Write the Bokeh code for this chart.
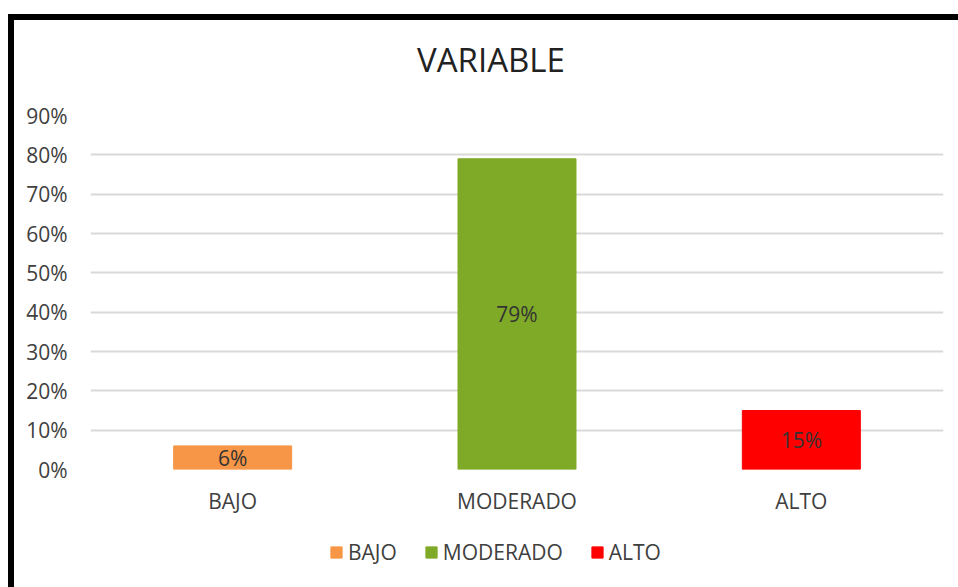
from bokeh.plotting import figure
from bokeh.layouts import column
from bokeh.models import (ColumnDataSource, FactorRange, Range1d, NumeralTickFormatter,
                          FixedTicker, Legend, LegendItem, Div)
from bokeh.core.properties import value
from bokeh.embed import file_html
from bokeh.resources import INLINE

title_text = "VARIABLE"
categories = ["BAJO", "MODERADO", "ALTO"]
values = [0.06, 0.79, 0.15]
labels = ["6%", "79%", "15%"]
colors = ["#F79646", "#7FAA28", "#FF0000"]
y_ticks = [0.0, 0.1, 0.2, 0.3, 0.4, 0.5, 0.6, 0.7, 0.8, 0.9]

FONT = "Open Sans"
TXT = "#404040"
FS = "21px"

src = ColumnDataSource(dict(cat=categories, val=values, lab=labels, col=colors,
                            mid=[v / 2 for v in values]))

title = Div(text=title_text, width=944, height=70,
            styles={"font-family": FONT, "font-size": "33px", "color": "#222222",
                    "line-height": "70px", "text-align": "center",
                    "box-sizing": "border-box",
                    "background-color": "white"})

p = figure(width=944, height=417, output_backend="svg", toolbar_location=None,
           x_range=FactorRange(*categories), y_range=Range1d(0, 0.9),
           min_border_left=76, min_border_right=15, min_border_top=15,
           min_border_bottom=48)
p.outline_line_color = None
p.background_fill_color = "white"
p.border_fill_color = "white"

p.xgrid.grid_line_color = None
p.ygrid.grid_line_color = "#D9D9D9"
p.ygrid.grid_line_width = 2
p.yaxis.ticker = FixedTicker(ticks=y_ticks)
p.yaxis.formatter = NumeralTickFormatter(format="0%")
for ax in (p.xaxis, p.yaxis):
    ax.axis_line_color = None
    ax.major_tick_line_color = None
    ax.minor_tick_line_color = None
    ax.major_tick_out = 0
    ax.major_tick_in = 0
    ax.minor_tick_out = 0
    ax.major_label_text_font = FONT
    ax.major_label_text_font_size = FS
    ax.major_label_text_color = TXT
p.yaxis.major_label_standoff = 23
p.xaxis.major_label_standoff = 17

p.vbar(x="cat", top="val", width=0.415, color="col", source=src)
p.text(x="cat", y="mid", text="lab", source=src, text_align="center",
       text_baseline="middle", text_font=value(FONT), text_font_size=FS,
       text_color="#333333")

# legend strip: same bars, drawn outside its visible range so only the legend shows
p2 = figure(width=944, height=70, output_backend="svg", toolbar_location=None,
            x_range=FactorRange(*categories), y_range=Range1d(10, 11),
            min_border_left=0, min_border_right=0, min_border_top=0,
            min_border_bottom=0)
p2.axis.visible = False
p2.grid.visible = False
p2.outline_line_color = None
p2.background_fill_color = "white"
p2.border_fill_color = "white"
r2 = p2.vbar(x="cat", top="val", width=0.415, color="col", source=src)

items = [LegendItem(label=c, renderers=[r2], index=i) for i, c in enumerate(categories)]
legend = Legend(items=items, orientation="horizontal", location=(239, 21),
                label_text_font=FONT, label_text_font_size=FS,
                label_text_color=TXT, glyph_width=14, glyph_height=14,
                spacing=27, label_standoff=5, border_line_color=None,
                background_fill_alpha=0, margin=0, padding=0)
p2.add_layout(legend, "center")

layout = column(title, p, p2, spacing=0,
                styles={"margin-left": "8px", "margin-top": "14px",
                        "border-left": "6px solid black",
                        "border-top": "6px solid black"})

open("out.html", "w").write(file_html(layout, INLINE))
